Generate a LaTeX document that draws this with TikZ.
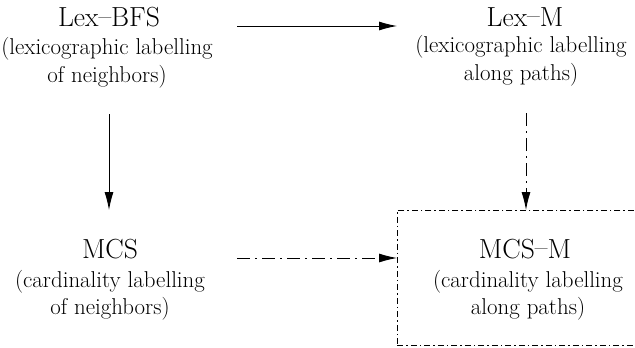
\documentclass[tikz,border=0pt]{standalone}
\usetikzlibrary{arrows.meta}
\newcommand{\mydash}{\raisebox{0.06em}{\textendash}}
\tikzset{
  title/.style={anchor=base, inner sep=0pt, font=\fontsize{27.6}{32}\selectfont},
  sub/.style={anchor=base, inner sep=0pt, font=\fontsize{22.9}{27}\selectfont},
  conn/.style={line width=0.9pt, -{Latex[length=18pt,width=9pt]}},
  dashdot/.style={dash pattern=on 13pt off 5pt on 2pt off 5pt},
  framebox/.style={draw, line width=0.9pt, dash pattern=on 6pt off 3pt on 1.5pt off 3pt, minimum width=260pt, minimum height=135pt, anchor=north west, inner sep=0pt}
}
\begin{document}
\begin{tikzpicture}[x=1pt,y=1pt]
\useasboundingbox (0,0) rectangle (635,-348);
\clip (0,0) rectangle (635,-348);
% Lex-BFS
\node[title] (lexbfs) at (109,-27) {Lex\mydash BFS};
\node[sub] (lexbfsA) at (107,-54) {(lexicographic labelling};
\node[sub] (lexbfsB) at (107,-82) {of neighbors)};
% Lex-M
\node[title] (lexm) at (525,-26) {Lex\mydash M};
\node[sub] (lexmA) at (521,-52) {(lexicographic labelling};
\node[sub] (lexmB) at (521,-80) {along paths)};
% MCS
\node[title] (mcs) at (110,-258) {MCS};
\node[sub] (mcsA) at (110,-287) {(cardinality labelling};
\node[sub] (mcsB) at (110,-314) {of neighbors)};
% MCS-M box
\node[framebox] (mcsmbox) at (397,-210) {};
\node[title] (mcsm) at (525,-258) {MCS\mydash M};
\node[sub] (mcsmA) at (528,-287) {(cardinality labelling};
\node[sub] (mcsmB) at (528,-314) {along paths)};
% connectors
\coordinate (h1s) at (237,-26);
\coordinate (h1e) at (397,-26);
\draw[conn] (h1s) -- (h1e);
\coordinate (v1s) at (109,-114);
\coordinate (v1e) at (109,-210);
\draw[conn] (v1s) -- (v1e);
\coordinate (v2s) at (526,-113);
\draw[conn, dashdot] (v2s) -- (v2s |- mcsmbox.north);
\coordinate (h2s) at (237,-258);
\draw[conn, dashdot] (h2s) -- (h2s -| mcsmbox.west);
\end{tikzpicture}
\end{document}
